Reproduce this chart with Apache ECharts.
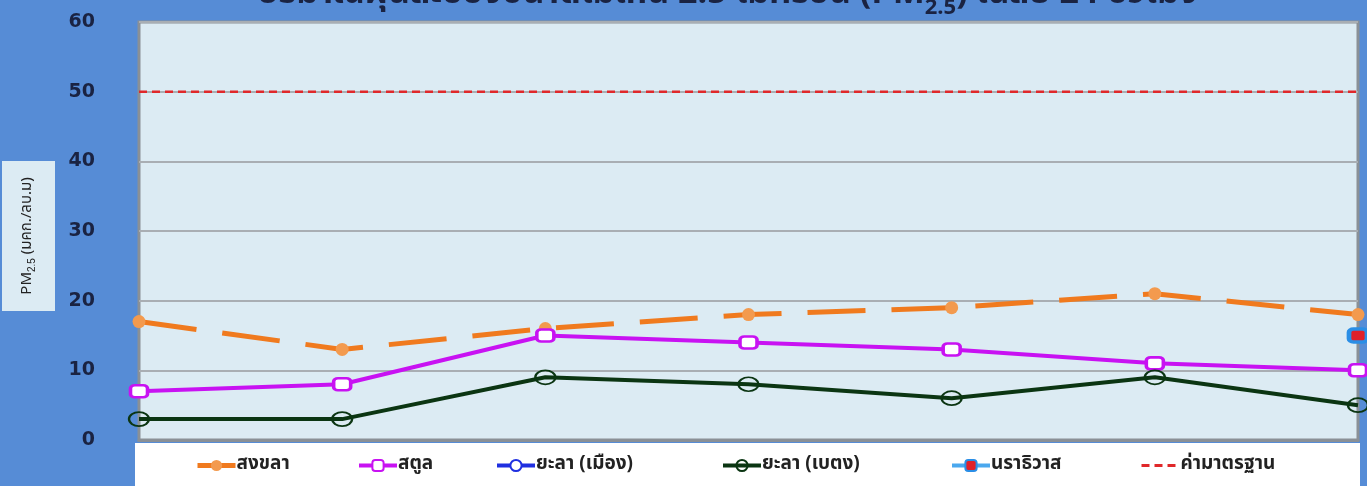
<!DOCTYPE html>
<html>
<head>
<meta charset="utf-8">
<script src="https://cdn.jsdelivr.net/npm/echarts@6/dist/echarts.min.js"></script>
<style>
html,body{margin:0;padding:0;background:#568cd6;}
#c{width:1367px;height:486px;}
</style>
</head>
<body>
<div id="c"></div>
<script>
const categories = ['1', '2', '3', '4', '5', '6', '7'];
const songkhla = [17, 13, 16, 18, 19, 21, 18];
const satun = [7, 8, 15, 14, 13, 11, 10];
const yalaMueang = [null, null, null, null, null, null, null];
const yalaBetong = [3, 3, 9, 8, 6, 9, 5];
const narathiwat = [null, null, null, null, null, null, 15];
const standard = [50, 50, 50, 50, 50, 50, 50];
const yTicks = [0, 10, 20, 30, 40, 50, 60];
const seriesNames = ['สงขลา', 'สตูล', 'ยะลา (เมือง)', 'ยะลา (เบตง)', 'นราธิวาส', 'ค่ามาตรฐาน'];

const chart = echarts.init(document.getElementById('c'));
const fontThai = '"Noto Sans Thai","Tahoma","DejaVu Sans","Noto Sans",sans-serif';
const legendLefts = [190, 352, 490, 716, 945, 1135];
const legendExtra = [
  { lineStyle: { width: 5, type: 'solid' } },
  { lineStyle: { width: 4 } },
  { lineStyle: { width: 4 } },
  { lineStyle: { width: 4 } },
  { lineStyle: { width: 4 } },
  { lineStyle: { width: 3 }, itemStyle: { opacity: 0 } }
];
const legends = seriesNames.map((n, i) => ({
  top: 451, left: legendLefts[i], itemWidth: 38, itemHeight: 14,
  textStyle: { fontSize: 19, fontWeight: 'bold', color: '#222', fontFamily: fontThai, padding: [0, 0, 0, -4] },
  data: [Object.assign({ name: n }, legendExtra[i])]
}));

chart.setOption({
  backgroundColor: '#568cd6',
  animation: false,
  title: {
    text: 'ปริมาณฝุ่นละอองขนาดไม่เกิน 2.5 ไมครอน (PM{sub|2.5}) เฉลี่ย 24 ชั่วโมง',
    left: 252,
    top: -34,
    textStyle: {
      fontSize: 34, fontWeight: 'bold', color: '#1a2342', fontFamily: fontThai,
      rich: { sub: { fontSize: 22, fontWeight: 'bold', color: '#1a2342', padding: [28, 0, 0, 0], fontFamily: fontThai } }
    }
  },
  graphic: [
    { type: 'rect', shape: { x: 135, y: 443, width: 1225, height: 43 }, style: { fill: '#ffffff' }, z: 0 },
    { type: 'rect', shape: { x: 2, y: 161, width: 53, height: 150 }, style: { fill: '#dcebf3' }, z: 0 },
    {
      type: 'text', x: 28, y: 236, rotation: Math.PI / 2, z: 5,
      style: {
        text: 'PM{sub|2.5} (มคก./ลบ.ม)', align: 'center', verticalAlign: 'middle',
        fill: '#222', font: '15px ' + fontThai,
        rich: { sub: { fontSize: 10, padding: [8, 0, 0, 0], fill: '#222' } }
      }
    }
  ],
  legend: legends,
  grid: {
    left: 139, right: 9, top: 22, bottom: 46,
    show: true, backgroundColor: '#dcebf3', borderColor: '#8a9096', borderWidth: 3
  },
  xAxis: {
    type: 'category', data: categories, boundaryGap: false,
    axisLabel: { show: false }, axisTick: { show: false },
    axisLine: { lineStyle: { color: '#8a9096', width: 3 } }
  },
  yAxis: {
    type: 'value', min: 0, max: 60, interval: 10,
    axisLine: { show: false }, axisTick: { show: false },
    axisLabel: {
      margin: 44, fontSize: 19, fontWeight: 'bold', color: '#1a2342', fontFamily: '"DejaVu Sans",Verdana,sans-serif',
      formatter: v => yTicks.includes(v) ? String(v) : ''
    },
    splitLine: { lineStyle: { color: '#a9aeb3', width: 2 } }
  },
  series: [
    {
      name: seriesNames[0], type: 'line', data: songkhla, color: '#f07a1e',
      lineStyle: { width: 5, type: [58, 26], color: '#f07a1e' },
      symbol: 'circle', symbolSize: 13, itemStyle: { color: '#f39a4e', borderWidth: 0 }, z: 3
    },
    {
      name: seriesNames[1], type: 'line', data: satun, color: '#c812f2',
      lineStyle: { width: 4, color: '#c812f2' },
      symbol: 'roundRect', symbolSize: [17, 12], itemStyle: { color: '#ffffff', borderColor: '#c812f2', borderWidth: 3 }, z: 4
    },
    {
      name: seriesNames[2], type: 'line', data: yalaMueang, color: '#1f2fe0',
      lineStyle: { width: 4, color: '#1f2fe0' },
      symbol: 'circle', symbolSize: 12, itemStyle: { color: '#ffffff', borderColor: '#1f2fe0', borderWidth: 4 }
    },
    {
      name: seriesNames[3], type: 'line', data: yalaBetong, color: '#0b3512',
      lineStyle: { width: 4, color: '#0b3512' },
      symbol: 'circle', symbolSize: [20, 14], itemStyle: { color: 'rgba(0,0,0,0)', borderColor: '#0b3512', borderWidth: 2 }, z: 4
    },
    {
      name: seriesNames[4], type: 'line', data: narathiwat, color: '#2a8ee6',
      lineStyle: { width: 4, color: '#4aa8ee' },
      symbol: 'roundRect', symbolSize: [18, 13], itemStyle: { color: '#e0202a', borderColor: '#2a8ee6', borderWidth: 4 }, z: 5
    },
    {
      name: seriesNames[5], type: 'line', data: standard, color: '#e0282a',
      lineStyle: { width: 2.5, type: [8, 5], color: '#e0282a' },
      symbol: 'none', z: 2
    }
  ]
});
</script>
</body>
</html>
